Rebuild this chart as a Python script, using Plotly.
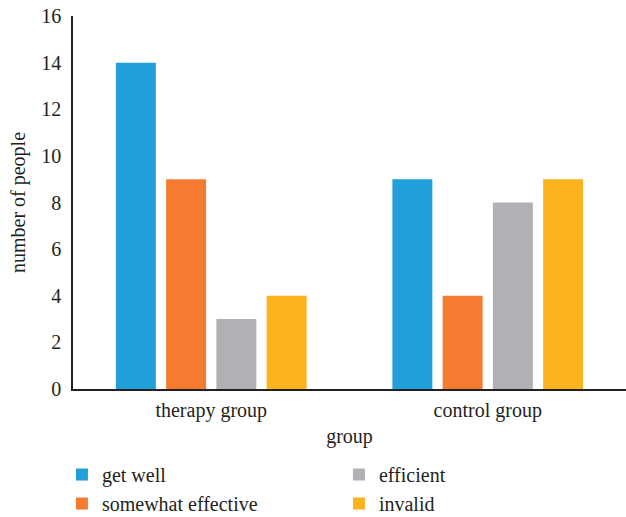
import plotly.graph_objects as go

groups = ["therapy group", "control group"]
series_names = ["get well", "somewhat effective", "efficient", "invalid"]
get_well = [14, 9]
somewhat_effective = [9, 4]
efficient = [3, 8]
invalid = [4, 9]
colors = ["#219fd9", "#f47b30", "#b1b1b5", "#fbb31e"]
# legend reads row-wise: get well, efficient / somewhat effective, invalid
legend_ranks = [1, 3, 2, 4]

values = [get_well, somewhat_effective, efficient, invalid]
font_family = "Liberation Serif"
text_color = "#231f20"

fig = go.Figure()
for name, vals, col, rank in zip(series_names, values, colors, legend_ranks):
    fig.add_trace(go.Bar(
        x=groups, y=vals, name=name,
        marker=dict(color=col, line=dict(width=0)),
        legendrank=rank,
    ))

fig.update_layout(
    width=626, height=517,
    margin=dict(l=73, r=0, t=16, b=128, autoexpand=False),
    paper_bgcolor="white", plot_bgcolor="white",
    font=dict(family=font_family, size=20, color=text_color),
    barmode="group", bargap=0.273, bargroupgap=0.205,
    xaxis=dict(
        title=dict(text="group", standoff=8, font=dict(size=20)),
        showline=True, linecolor=text_color, linewidth=1.5,
        showgrid=False, ticks="", tickfont=dict(size=20),
        ticklabelstandoff=2,
    ),
    yaxis=dict(
        title=dict(text="number of people", standoff=10, font=dict(size=20)),
        range=[0, 16], dtick=2,
        showline=True, linecolor=text_color, linewidth=1.5,
        showgrid=False, zeroline=False, ticks="", tickfont=dict(size=20),
        ticklabelstandoff=6,
    ),
    legend=dict(
        orientation="h", x=-0.02, xanchor="left", y=-0.177, yanchor="top",
        entrywidth=232, entrywidthmode="pixels",
        font=dict(size=20), tracegroupgap=0,
    ),
    showlegend=True,
)

fig.write_html("out.html")
